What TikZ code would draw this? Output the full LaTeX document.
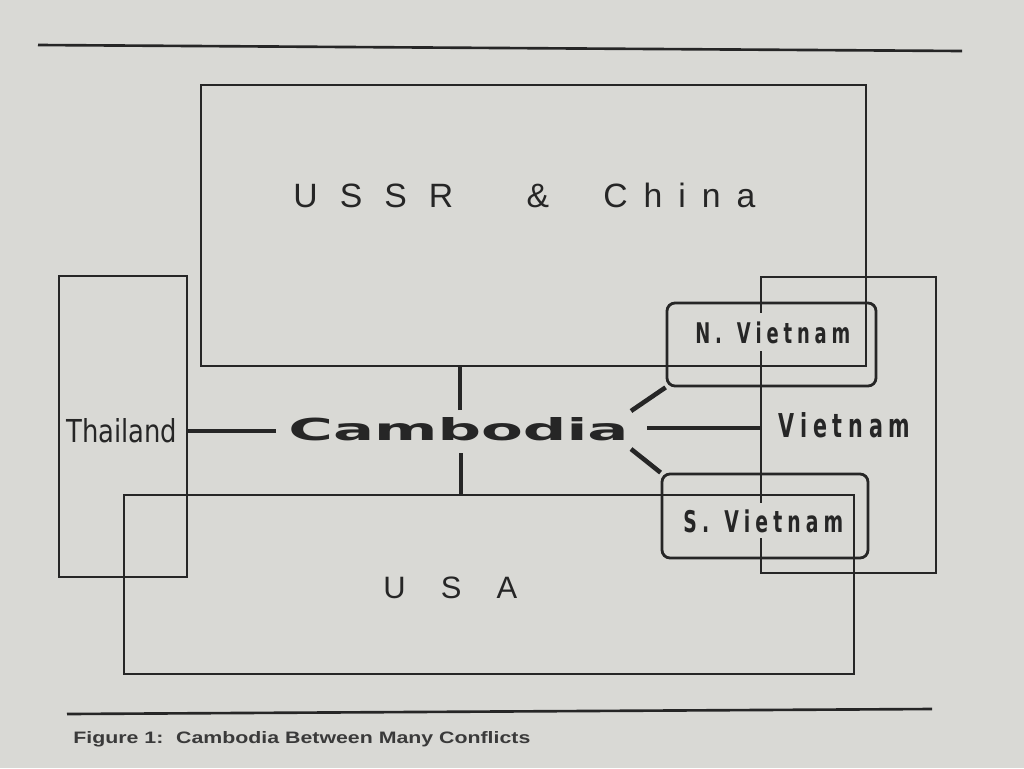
\documentclass[tikz,border=0pt]{standalone}
\usepackage{fontspec}
\usepackage{graphicx}
\usetikzlibrary{fit}
\setmainfont{Liberation Sans}
\newfontfamily\geo{Liberation Sans}
\newfontfamily\condf[FakeStretch=0.7]{DejaVu Sans Condensed}
\newfontfamily\dvb{DejaVu Sans}
\newlength\pxu \setlength\pxu{0.02cm}
\newcommand\fitw[3]{\resizebox{#1\pxu}{#2\pxu}{#3}}
\newcommand\spreadbox[2]{\makebox[#1\pxu][s]{#2}}
\definecolor{paper}{HTML}{D9D9D5}
\definecolor{ink}{HTML}{262626}
\definecolor{capink}{HTML}{3A3A3A}
\tikzset{
  box/.style={draw=ink, line width=1.6pt, inner sep=0pt},
  rbox/.style={box, rounded corners=8\pxu},
  lbl/.style={anchor=base west, inner sep=0pt, text=ink},
  link/.style={draw=ink, line width=2.6pt},
  rule/.style={draw=ink, line width=1.5pt},
}
\begin{document}
\begin{tikzpicture}[x=0.02cm, y=-0.02cm]
\useasboundingbox (0,0) rectangle (1024,768);
\fill[paper] (0,0) rectangle (1024,768);

% rules
\draw[rule] (38,45) -- (962,51);
\draw[rule] (67,714) -- (932,709);

% boxes
\node[box, fit={(201,85) (866,366)}] (ussr) {};
\node[box, fit={(59,276) (187,577)}] (thai) {};
\node[box, fit={(124,495) (854,674)}] (usa) {};
\node[box, fit={(761,277) (936,573)}] (viet) {};
\node[rbox, fit={(667,303) (876,386)}] (nv) {};
\node[rbox, fit={(662,474) (868,558)}] (sv) {};

% labels
\node[lbl] (ussrt) at (293,207) {\fontsize{19.2}{20}\geo
  \spreadbox{160}{U\hfil S\hfil S\hfil R}\hspace{72\pxu}%
  \makebox[25\pxu]{\&}\hspace{53\pxu}%
  \spreadbox{152}{C\hfil h\hfil i\hfil n\hfil a}};
\node[lbl] (usat) at (383,598) {\fontsize{17.6}{18}\geo
  \spreadbox{134}{U\hfil S\hfil A}};
\node[lbl] (thait) at (66,442) {\fitw{111}{24}{\condf Thailand}};
\node[lbl] (viett) at (778,437) {\fontsize{18.7}{19}\condf\bfseries
  \spreadbox{132}{V\hfil i\hfil e\hfil t\hfil n\hfil a\hfil m}};
\node[lbl, fill=paper, inner ysep=8\pxu] (nvt) at (695,343) {\fontsize{16.2}{17}\condf\bfseries
  \spreadbox{155}{N\hfil .\hskip 10\pxu\hfil V\hfil i\hfil e\hfil t\hfil n\hfil a\hfil m}};
\node[lbl, fill=paper, inner ysep=6\pxu] (svt) at (683,532) {\fontsize{17}{18}\condf\bfseries
  \spreadbox{160}{S\hfil .\hskip 10\pxu\hfil V\hfil i\hfil e\hfil t\hfil n\hfil a\hfil m}};
\node[lbl] (camb) at (288,440) {\fitw{340}{23}{\dvb\bfseries Cambodia}};

% connector end points
\coordinate (cl) at (276,431);
\coordinate (ct) at (460,410);
\coordinate (cb) at (461,453);
\coordinate (cr) at (647,428);
\coordinate (cu) at (631,411);
\coordinate (cd) at (631,449);

% connectors
\draw[link] (cl) -- (cl -| thai.east);
\draw[link] (ct) -- (ct |- ussr.south);
\draw[link] (cb) -- (cb |- usa.north);
\draw[link] (cr) -- (cr -| viet.west);
\draw[link] (cu) -- (nv.south west);
\draw[link] (cd) -- (sv.north west);

% caption
\node[anchor=base west, inner sep=0pt, text=capink] (cap) at (73,743)
  {\fitw{457}{12}{\bfseries Figure 1:\hspace{0.6em}Cambodia Between Many Conflicts}};
\end{tikzpicture}
\end{document}
